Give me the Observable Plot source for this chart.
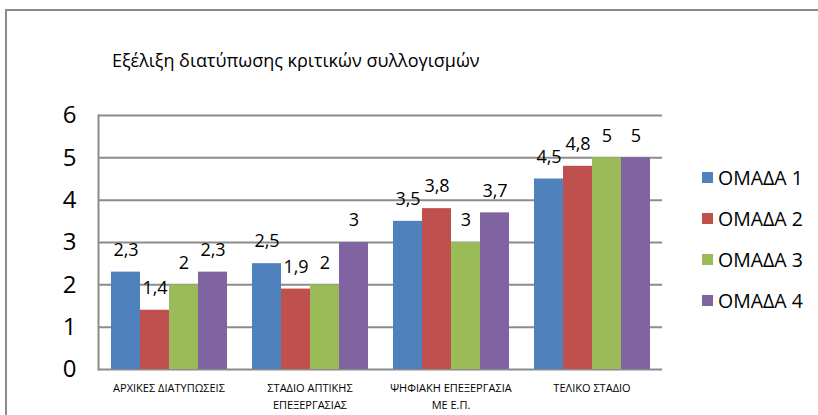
<!DOCTYPE html>
<html><head><meta charset="utf-8">
<script src="https://cdn.jsdelivr.net/npm/d3@7"></script>
<script src="https://cdn.jsdelivr.net/npm/@observablehq/plot@0.6"></script>
<style>
body{margin:0;background:#fff;font-family:"Open Sans",sans-serif;}
#wrap{position:relative;width:818px;height:415px;overflow:hidden;background:#fff;}
#frame{position:absolute;left:5px;top:9px;width:840px;height:440px;border:2px solid #8c8c8c;box-sizing:border-box;}
.layer{position:absolute;left:0;top:0;}
#title{position:absolute;left:112px;top:48px;font-size:18px;color:#000;white-space:nowrap;}
#legend{position:absolute;left:702px;top:157px;}
.item{display:flex;align-items:center;height:41px;font-size:19.5px;color:#000;white-space:nowrap;}
.sw{width:11px;height:11px;margin-right:5px;}
</style></head>
<body>
<div id="wrap"><div id="frame"></div><div id="bg" class="layer"></div><div id="fg" class="layer"></div><div id="title"></div><div id="legend"></div></div>
<script>
const title = "Εξέλιξη διατύπωσης κριτικών συλλογισμών";
const categories = ["ΑΡΧΙΚΕΣ ΔΙΑΤΥΠΩΣΕΙΣ","ΣΤΑΔΙΟ ΑΠΤΙΚΗΣ ΕΠΕΞΕΡΓΑΣΙΑΣ","ΨΗΦΙΑΚΗ ΕΠΕΞΕΡΓΑΣΙΑ ΜΕ Ε.Π.","ΤΕΛΙΚΟ ΣΤΑΔΙΟ"];
const tickLabels = ["ΑΡΧΙΚΕΣ ΔΙΑΤΥΠΩΣΕΙΣ","ΣΤΑΔΙΟ ΑΠΤΙΚΗΣ\nΕΠΕΞΕΡΓΑΣΙΑΣ","ΨΗΦΙΑΚΗ ΕΠΕΞΕΡΓΑΣΙΑ\nΜΕ Ε.Π.","ΤΕΛΙΚΟ ΣΤΑΔΙΟ"];
const groups = ["ΟΜΑΔΑ 1","ΟΜΑΔΑ 2","ΟΜΑΔΑ 3","ΟΜΑΔΑ 4"];
const omada1 = [2.3, 2.5, 3.5, 4.5];
const omada2 = [1.4, 1.9, 3.8, 4.8];
const omada3 = [2, 2, 3, 5];
const omada4 = [2.3, 3, 3.7, 5];
const yTicks = [0, 1, 2, 3, 4, 5, 6];
const colors = ["#4F81BD","#C0504D","#9BBB59","#8064A2"];

const series = [omada1, omada2, omada3, omada4];
const data = [];
categories.forEach((c, i) => series.forEach((s, j) => data.push({category: c, group: groups[j], value: s[i]})));
const fmt = v => String(v).replace(".", ",");

const common = {
  width: 818, height: 415,
  marginLeft: 98, marginRight: 156, marginTop: 115, marginBottom: 46,
  style: {fontFamily: "Open Sans", background: "transparent", color: "#000"},
  y: {domain: [0, 6], label: null}
};

// background: grid, y axis, category labels
const bg = Plot.plot({
  ...common,
  x: {type: "band", domain: categories, padding: 0, label: null},
  marks: [
    Plot.gridY(yTicks, {stroke: "#8c8c8c", strokeOpacity: 1, strokeWidth: 2}),
    Plot.frame({anchor: "left", stroke: "#8c8c8c", strokeWidth: 2}),
    Plot.axisY(yTicks, {tickSize: 0, tickPadding: 22, fontSize: 24, label: null}),
    Plot.axisX({anchor: "bottom", tickSize: 0, tickPadding: 11, fontSize: 11, lineHeight: 1.5, label: null,
      tickFormat: d => tickLabels[categories.indexOf(d)]})
  ]
});

// foreground: grouped bars and value labels
const fg = Plot.plot({
  ...common,
  fx: {domain: categories, paddingInner: 0.156, paddingOuter: 0.078, label: null, axis: null},
  x: {domain: groups, padding: 0, axis: null},
  y: {domain: [0, 6], axis: null},
  color: {domain: groups, range: colors},
  marks: [
    Plot.barY(data, {fx: "category", x: "group", y: "value", fill: "group"}),
    Plot.text(data, {fx: "category", x: "group", y: "value", text: d => fmt(d.value), dy: -22, fontSize: 18, fill: "#000"})
  ]
});
document.getElementById("bg").appendChild(bg);
document.getElementById("fg").appendChild(fg);
document.getElementById("title").textContent = title;
const leg = document.getElementById("legend");
groups.forEach((g, i) => {
  const it = document.createElement("div"); it.className = "item";
  const sw = document.createElement("div"); sw.className = "sw"; sw.style.background = colors[i];
  const t = document.createElement("span"); t.textContent = g;
  it.appendChild(sw); it.appendChild(t); leg.appendChild(it);
});
</script>
</body></html>
